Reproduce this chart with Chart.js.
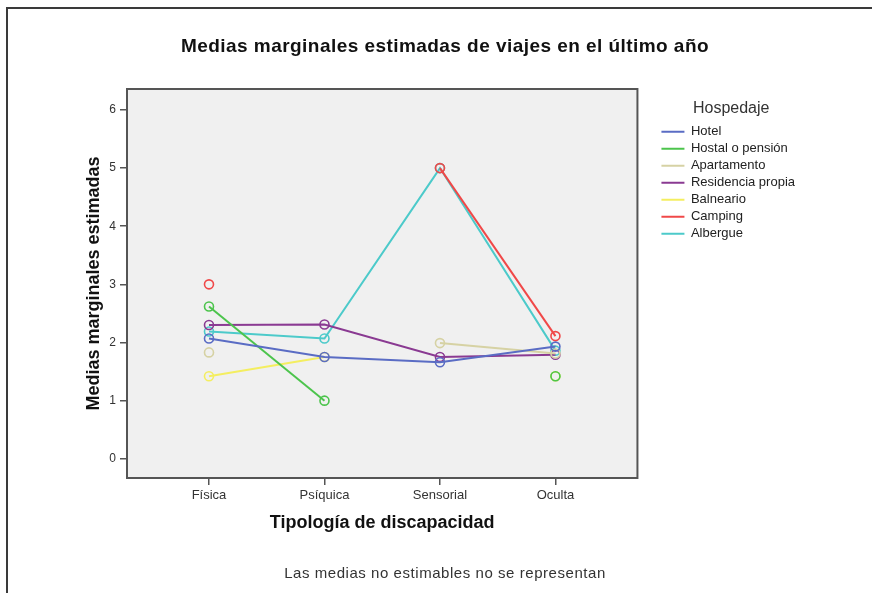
<!DOCTYPE html>
<html>
<head>
<meta charset="utf-8">
<script src="https://cdn.jsdelivr.net/npm/chart.js@4"></script>
<style>
  html, body { margin: 0; padding: 0; background: #fff; }
  #wrap { position: relative; width: 872px; height: 593px; overflow: hidden; }
  #frame { position: absolute; left: 6px; top: 7px; right: 0; bottom: 0; border-top: 2px solid #3a3a3a; border-left: 2px solid #3a3a3a; pointer-events: none; }
  canvas { position: absolute; left: 0; top: 0; }
  .txt { position: absolute; left: 0; width: 890px; text-align: center; font-family: 'Liberation Sans', Arial, sans-serif; white-space: nowrap; }
  #title { top: 34px; font-size: 19px; font-weight: bold; letter-spacing: 0.45px; color: #111; line-height: 24px; }
  #note { top: 563px; font-size: 15px; letter-spacing: 0.55px; color: #333; line-height: 20px; }
</style>
</head>
<body>
<div id="wrap">
<canvas id="c" width="872" height="593"></canvas>
<div id="frame"></div>
<div class="txt" id="title">Medias marginales estimadas de viajes en el último año</div>
<div class="txt" id="note">Las medias no estimables no se representan</div>
</div>
<script>
const categories = ['Física', 'Psíquica', 'Sensorial', 'Oculta'];
const seriesNames = ['Hotel', 'Hostal o pensión', 'Apartamento', 'Residencia propia', 'Balneario', 'Camping', 'Albergue'];
const hotel       = [2.07, 1.75, 1.66, 1.93];
const hostal      = [2.62, 1.00, null, 1.42];
const apartamento = [1.83, null, 1.99, 1.81];
const residencia  = [2.30, 2.31, 1.75, 1.79];
const balneario   = [1.42, 1.75, null, 1.42];
const camping     = [3.00, null, 5.00, 2.11];
const albergue    = [2.19, 2.07, 5.00, 1.86];
const yTicks = [0, 1, 2, 3, 4, 5, 6];

const seriesValues = [hotel, hostal, apartamento, residencia, balneario, camping, albergue];
const seriesColors = ['#5a6cc4', '#4cc44c', '#d6d2a4', '#8a3a92', '#f4ee60', '#f04848', '#4ccaca'];

const datasets = seriesNames.map((name, i) => ({
  label: name,
  data: seriesValues[i].map((v, j) => ({ x: j + 1, y: v })),
  borderColor: seriesColors[i],
  backgroundColor: seriesColors[i],
  pointBackgroundColor: 'rgba(0,0,0,0)',
  pointBorderColor: seriesColors[i],
  pointRadius: 4.5,
  pointBorderWidth: 1.6,
  borderWidth: 2,
  spanGaps: false,
  tension: 0
}));

const bgPlugin = {
  id: 'plotBg',
  beforeDraw(chart) {
    const a = chart.chartArea, ctx = chart.ctx;
    ctx.save();
    ctx.fillStyle = '#f0f0f0';
    ctx.fillRect(a.left, a.top, a.right - a.left, a.bottom - a.top);
    ctx.restore();
  },
  afterDraw(chart) {
    const a = chart.chartArea, ctx = chart.ctx;
    ctx.save();
    ctx.strokeStyle = '#555';
    ctx.lineWidth = 2;
    ctx.strokeRect(a.left, a.top, a.right - a.left, a.bottom - a.top);
    ctx.restore();
  }
};

new Chart(document.getElementById('c'), {
  type: 'line',
  data: { datasets },
  plugins: [bgPlugin],
  options: {
    responsive: false,
    animation: false,
    events: [],
    layout: { padding: { left: 0, right: 67, top: 89, bottom: 29 } },
    plugins: {
      title: { display: false },
      legend: {
        position: 'right',
        align: 'start',
        fullSize: false,
        maxWidth: 300,
        title: {
          display: true,
          text: 'Hospedaje',
          font: { family: 'Liberation Sans', size: 16 },
          color: '#333',
          padding: { top: 12, bottom: 1 }
        },
        labels: {
          usePointStyle: false,
          boxWidth: 23,
          boxHeight: 2,
          padding: 4,
          font: { family: 'Liberation Sans', size: 13 },
          color: '#222',
          generateLabels(chart) {
            const items = Chart.defaults.plugins.legend.labels.generateLabels(chart);
            items.forEach(it => { it.lineWidth = 0; it.fillStyle = it.strokeStyle; });
            return items;
          }
        }
      },
      tooltip: { enabled: false }
    },
    scales: {
      x: {
        type: 'linear',
        min: 0.29,
        max: 4.71,
        afterBuildTicks(s) { s.ticks = categories.map((c, i) => ({ value: i + 1 })); },
        afterFit(s) { s.height = 86; },
        ticks: {
          callback: (v) => categories[v - 1] ?? '',
          font: { family: 'Liberation Sans', size: 13 },
          color: '#333',
          padding: 3,
          maxRotation: 0
        },
        grid: { display: true, drawOnChartArea: false, tickLength: 7, color: '#555', lineWidth: 1.5 },
        border: { display: false },
        title: {
          display: true,
          text: 'Tipología de discapacidad',
          font: { family: 'Liberation Sans', size: 18, weight: 'bold' },
          color: '#111',
          padding: { top: 0, bottom: 30 }
        }
      },
      y: {
        min: -0.33,
        max: 6.36,
        afterBuildTicks(s) { s.ticks = yTicks.map(v => ({ value: v })); },
        afterFit(s) { s.width = 127; },
        ticks: {
          font: { family: 'Liberation Sans', size: 12 },
          color: '#333',
          padding: 4
        },
        grid: { display: true, drawOnChartArea: false, tickLength: 7, color: '#555', lineWidth: 1.5 },
        border: { display: false },
        title: {
          display: true,
          text: 'Medias marginales estimadas',
          font: { family: 'Liberation Sans', size: 18, weight: 'bold' },
          color: '#111',
          padding: { top: 83, bottom: 0 }
        }
      },
      gap: {
        type: 'linear',
        position: 'right',
        display: true,
        afterFit(s) { s.width = 20; },
        ticks: { display: false },
        grid: { display: false },
        border: { display: false }
      }
    }
  }
});
</script>
</body>
</html>
